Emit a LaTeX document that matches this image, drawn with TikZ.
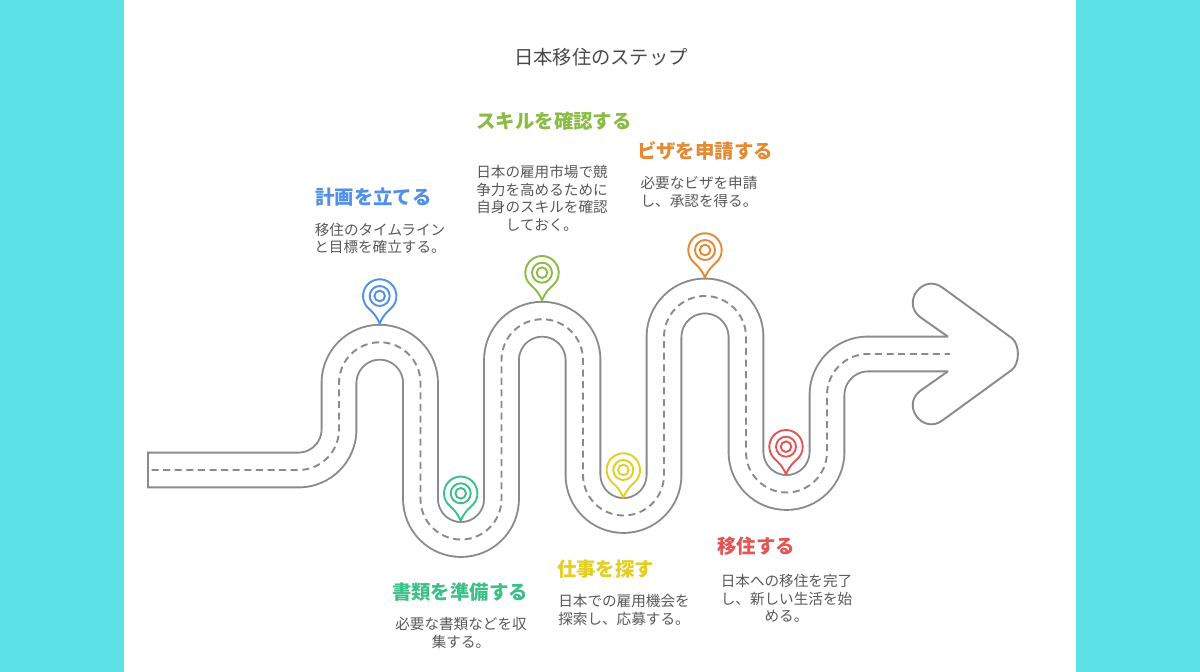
\documentclass[tikz,border=0pt]{standalone}
\usepackage{fontspec}
\setmainfont{Noto Sans CJK JP}
\definecolor{canvas}{HTML}{5CE1E6}
\definecolor{roadline}{HTML}{8A8A8A}
\definecolor{bodytext}{HTML}{595959}
\definecolor{titletext}{HTML}{4A4A4A}
\definecolor{cblue}{HTML}{5190E6}
\definecolor{cgreen}{HTML}{3DBF8A}
\definecolor{clime}{HTML}{8ABB45}
\definecolor{cyellow}{HTML}{E3CF22}
\definecolor{corange}{HTML}{E38A35}
\definecolor{cred}{HTML}{E25555}
\tikzset{
  x=1pt,y=1pt,
  headtext/.style={inner sep=0pt,font=\fontsize{19.4}{23}\selectfont\bfseries},
  bodynote/.style={inner sep=0pt,align=center,text=bodytext,font=\fontsize{14.6}{17.6}\selectfont},
  pinline/.style={line width=1.9pt,line join=round,fill=white}
}
\newcommand{\roadcourse}{(147,202) -- (298.5,202) arc[start angle=-90,end angle=0,radius=40.5pt]
  -- (339,289) arc[start angle=180,end angle=0,radius=40.75pt]
  -- (420.5,173) arc[start angle=180,end angle=360,radius=40.5pt]
  -- (501.5,312) arc[start angle=180,end angle=0,radius=40.75pt]
  -- (583,197) arc[start angle=180,end angle=360,radius=40.5pt]
  -- (664,335) arc[start angle=180,end angle=0,radius=41pt]
  -- (746,220) arc[start angle=180,end angle=360,radius=40.5pt]
  -- (827,277) arc[start angle=180,end angle=90,radius=41pt]
  -- (948,318)}
\newcommand{\arrowoutline}{(948,335.3) -- (920.4,354.7) .. controls (900.7,369.5) and (922.9,399.1) .. (942.6,384.3)
  -- (1011.7,334) .. controls (1020,327.8) and (1020,308.2) .. (1011.7,302)
  -- (942.6,251.7) .. controls (922.9,236.9) and (900.7,266.5) .. (920.4,281.3) -- (948,300.7)}
\newcommand{\mappin}[3]{%
  \begin{scope}[shift={(#1,#2)},draw=#3]
    \draw[pinline] (-10.7,-12.8) arc[start angle=230,end angle=-50,radius=16.7pt]
      .. controls (7,-16.5) and (4,-18.5) .. (0,-27.5)
      .. controls (-4,-18.5) and (-7,-16.5) .. (-10.7,-12.8) -- cycle;
    \draw[line width=1.9pt] (0,0) circle[radius=10pt];
    \draw[line width=1.9pt] (0,0) circle[radius=5.3pt];
  \end{scope}}
\begin{document}
\begin{tikzpicture}
\useasboundingbox (0,0) rectangle (1200,672);
\fill[canvas] (0,0) rectangle (1200,672);
\fill[white] (124,0) rectangle (1076,672);
% arrow head
\fill[white] \arrowoutline -- cycle;
\draw[roadline,line width=1.9pt,line join=round] \arrowoutline;
% road
\draw[roadline,line width=36.7pt] \roadcourse;
\draw[white,line width=32.9pt] \roadcourse;
\fill[white] (946,302) rectangle (949.5,334);
\fill[roadline] (147,183.7) rectangle (148.9,220.3);
\draw[roadline,line width=1.9pt,dash pattern=on 7pt off 4.6pt] (151.5,202) -- (298.5,202) arc[start angle=-90,end angle=0,radius=40.5pt]
  -- (339,289) arc[start angle=180,end angle=0,radius=40.75pt]
  -- (420.5,173) arc[start angle=180,end angle=360,radius=40.5pt]
  -- (501.5,312) arc[start angle=180,end angle=0,radius=40.75pt]
  -- (583,197) arc[start angle=180,end angle=360,radius=40.5pt]
  -- (664,335) arc[start angle=180,end angle=0,radius=41pt]
  -- (746,220) arc[start angle=180,end angle=360,radius=40.5pt]
  -- (827,277) arc[start angle=180,end angle=90,radius=41pt]
  -- (950,318);
% pins
\mappin{379.7}{376}{cblue}
\mappin{460.7}{178.7}{cgreen}
\mappin{542}{399.3}{clime}
\mappin{623.3}{202}{cyellow}
\mappin{705}{422}{corange}
\mappin{786}{225.3}{cred}
% texts
\node[inner sep=0pt,text=titletext,font=\fontsize{19.3}{23}\selectfont] (title) at (601,615) {日本移住のステップ};
\node[headtext,text=cblue] (h1) at (373.5,475) {計画を立てる};
\node[bodynote] (b1) at (380,433.5) {移住のタイムライン\\と目標を確立する。};
\node[headtext,text=clime] (h3) at (554,551) {スキルを確認する};
\node[bodynote] (b3) at (542,473.5) {日本の雇用市場で競\\争力を高めるために\\自身のスキルを確認\\しておく。};
\node[headtext,text=corange] (h5) at (705,521) {ビザを申請する};
\node[bodynote] (b5) at (699,480) {必要なビザを申請\\し、承認を得る。};
\node[headtext,text=cgreen] (h2) at (460,80) {書類を準備する};
\node[bodynote] (b2) at (461,39) {必要な書類などを収\\集する。};
\node[headtext,text=cyellow] (h4) at (605.5,103) {仕事を探す};
\node[bodynote] (b4) at (624,62) {日本での雇用機会を\\探索し、応募する。};
\node[headtext,text=cred] (h6) at (756,126) {移住する};
\node[bodynote] (b6) at (786.5,73.5) {日本への移住を完了\\し、新しい生活を始\\める。};
\end{tikzpicture}
\end{document}
